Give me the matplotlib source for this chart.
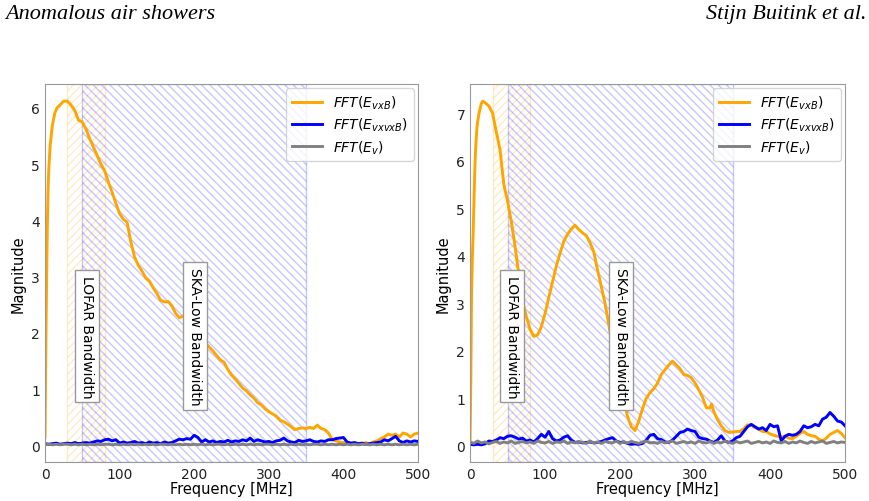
import numpy as np
import matplotlib
matplotlib.use("Agg")
import matplotlib.pyplot as plt
import matplotlib.transforms as mtransforms

# ---------------- data ----------------
# Left panel
left_orange_f = [0, 1, 2, 3, 4, 5, 7, 10, 13, 16, 20, 25, 30, 35, 40, 45, 50, 55, 60, 65,
                 70, 75, 80, 85, 90, 95, 100, 105, 110, 115, 120, 125, 130, 135, 140, 145,
                 150, 155, 160, 165, 170, 175, 180, 185, 190, 195, 200, 205, 210, 215, 220,
                 225, 230, 235, 240, 245, 250, 255, 260, 265, 270, 275, 280, 285, 290, 295,
                 300, 305, 310, 315, 320, 325, 330, 335, 340, 345, 350, 355, 360, 365, 370,
                 375, 380, 385, 390, 395, 400, 405, 410, 415, 420, 425, 430, 435, 440, 445,
                 450, 455, 460, 465, 470, 475, 480, 485, 490, 495, 500]
left_orange = [0.15, 1.6, 2.8, 3.8, 4.5, 4.9, 5.35, 5.7, 5.9, 6.0, 6.05, 6.12, 6.12, 6.05,
               5.95, 5.78, 5.75, 5.62, 5.45, 5.3, 5.15, 5.0, 4.88, 4.68, 4.5, 4.3, 4.12,
               4.02, 3.97, 3.62, 3.35, 3.2, 3.1, 2.98, 2.92, 2.8, 2.7, 2.58, 2.55, 2.56,
               2.48, 2.35, 2.27, 2.3, 2.2, 2.1, 2.0, 1.95, 1.88, 1.82, 1.75, 1.68, 1.6,
               1.52, 1.48, 1.35, 1.25, 1.18, 1.1, 1.02, 0.97, 0.9, 0.84, 0.76, 0.72, 0.65,
               0.6, 0.56, 0.52, 0.45, 0.42, 0.38, 0.33, 0.28, 0.3, 0.31, 0.3, 0.32, 0.3,
               0.36, 0.3, 0.28, 0.22, 0.1, 0.08, 0.06, 0.05, 0.04, 0.04, 0.03, 0.02, 0.03,
               0.05, 0.03, 0.06, 0.08, 0.12, 0.15, 0.2, 0.18, 0.2, 0.15, 0.22, 0.2, 0.15,
               0.2, 0.22]

noise_f = [0, 5, 10, 15, 20, 25, 30, 35, 40, 45, 50, 55, 60, 65, 70, 75, 80, 85, 90, 95,
           100, 105, 110, 115, 120, 125, 130, 135, 140, 145, 150, 155, 160, 165, 170, 175,
           180, 185, 190, 195, 200, 205, 210, 215, 220, 225, 230, 235, 240, 245, 250, 255,
           260, 265, 270, 275, 280, 285, 290, 295, 300, 305, 310, 315, 320, 325, 330, 335,
           340, 345, 350, 355, 360, 365, 370, 375, 380, 385, 390, 395, 400, 405, 410, 415,
           420, 425, 430, 435, 440, 445, 450, 455, 460, 465, 470, 475, 480, 485, 490, 495, 500]
left_blue = [0.03, 0.02, 0.03, 0.04, 0.02, 0.03, 0.04, 0.03, 0.05, 0.03, 0.04, 0.05, 0.04,
             0.06, 0.08, 0.07, 0.1, 0.11, 0.08, 0.1, 0.04, 0.06, 0.04, 0.05, 0.07, 0.04,
             0.05, 0.03, 0.06, 0.04, 0.05, 0.03, 0.06, 0.04, 0.05, 0.08, 0.11, 0.1, 0.12,
             0.11, 0.18, 0.14, 0.06, 0.1, 0.06, 0.08, 0.05, 0.07, 0.06, 0.09, 0.06, 0.08,
             0.07, 0.1, 0.08, 0.13, 0.07, 0.1, 0.08, 0.06, 0.07, 0.05, 0.08, 0.09, 0.13,
             0.08, 0.06, 0.05, 0.09, 0.07, 0.08, 0.1, 0.07, 0.06, 0.08, 0.07, 0.1, 0.1,
             0.12, 0.13, 0.14, 0.06, 0.04, 0.05, 0.03, 0.04, 0.02, 0.03, 0.04, 0.05, 0.06,
             0.1, 0.08, 0.12, 0.16, 0.08, 0.05, 0.08, 0.06, 0.08, 0.07]
left_gray = [0.01, 0.02, 0.01, 0.02, 0.01, 0.02, 0.02, 0.01, 0.02, 0.01, 0.02, 0.01, 0.02,
             0.01, 0.02, 0.01, 0.02, 0.02, 0.01, 0.02, 0.01, 0.02, 0.01, 0.02, 0.01, 0.02,
             0.01, 0.02, 0.01, 0.02, 0.01, 0.02, 0.02, 0.01, 0.02, 0.01, 0.02, 0.01, 0.02,
             0.01, 0.02, 0.01, 0.02, 0.01, 0.02, 0.01, 0.02, 0.02, 0.01, 0.02, 0.01, 0.02,
             0.01, 0.02, 0.01, 0.02, 0.01, 0.02, 0.01, 0.02, 0.02, 0.01, 0.02, 0.01, 0.02,
             0.01, 0.02, 0.01, 0.02, 0.01, 0.02, 0.01, 0.02, 0.02, 0.01, 0.02, 0.01, 0.02,
             0.01, 0.02, 0.01, 0.02, 0.01, 0.02, 0.01, 0.02, 0.02, 0.01, 0.02, 0.01, 0.02,
             0.01, 0.02, 0.01, 0.02, 0.01, 0.02, 0.01, 0.02, 0.01, 0.02]

# Right panel
right_orange_f = [0, 1, 2, 3, 4, 5, 6, 7, 8, 9, 10, 12, 15, 17, 20, 25, 30, 35, 40, 45, 50,
                  55, 60, 65, 70, 75, 80, 85, 90, 95, 100, 105, 110, 115, 120, 125, 130, 135,
                  140, 145, 150, 155, 160, 165, 170, 175, 180, 185, 190, 195, 200, 205, 210,
                  215, 220, 225, 230, 235, 240, 245, 250, 255, 260, 265, 270, 275, 280, 285,
                  290, 295, 300, 305, 310, 315, 320, 322, 325, 330, 335, 340, 345, 350, 355,
                  360, 365, 370, 375, 380, 385, 390, 395, 400, 405, 410, 415, 420, 425, 430,
                  435, 440, 445, 450, 455, 460, 465, 470, 475, 480, 485, 490, 495, 500]
right_orange = [0.1, 1.3, 3.2, 3.9, 4.4, 5.0, 5.6, 6.1, 6.4, 6.65, 6.8, 7.0, 7.2, 7.25, 7.22,
                7.15, 7.0, 6.6, 6.23, 5.5, 5.15, 4.72, 4.2, 3.6, 3.05, 2.72, 2.45, 2.3, 2.33,
                2.5, 2.78, 3.12, 3.45, 3.78, 4.05, 4.3, 4.45, 4.56, 4.64, 4.55, 4.48, 4.42,
                4.27, 4.08, 3.7, 3.35, 3.0, 2.55, 2.1, 1.7, 1.3, 0.95, 0.62, 0.4, 0.32, 0.52,
                0.78, 1.0, 1.12, 1.2, 1.32, 1.5, 1.6, 1.7, 1.78, 1.7, 1.62, 1.5, 1.48, 1.43,
                1.32, 1.18, 1.02, 0.8, 0.8, 0.88, 0.72, 0.55, 0.42, 0.32, 0.28, 0.29, 0.3,
                0.3, 0.36, 0.44, 0.43, 0.38, 0.35, 0.3, 0.3, 0.25, 0.22, 0.2, 0.18, 0.2, 0.16,
                0.15, 0.2, 0.26, 0.3, 0.24, 0.21, 0.2, 0.14, 0.1, 0.16, 0.24, 0.28, 0.32,
                0.26, 0.17]
right_blue = [0.03, 0.02, 0.03, 0.02, 0.04, 0.1, 0.09, 0.12, 0.17, 0.15, 0.2, 0.21, 0.18,
              0.14, 0.16, 0.1, 0.12, 0.08, 0.15, 0.24, 0.18, 0.3, 0.15, 0.1, 0.12, 0.18,
              0.21, 0.12, 0.07, 0.08, 0.06, 0.07, 0.08, 0.06, 0.07, 0.09, 0.12, 0.15, 0.17,
              0.1, 0.07, 0.08, 0.05, 0.03, 0.04, 0.03, 0.05, 0.12, 0.22, 0.24, 0.15, 0.13,
              0.08, 0.07, 0.12, 0.2, 0.28, 0.3, 0.35, 0.32, 0.3, 0.18, 0.15, 0.14, 0.1,
              0.07, 0.12, 0.21, 0.1, 0.07, 0.1, 0.17, 0.2, 0.3, 0.4, 0.45, 0.4, 0.35, 0.38,
              0.32, 0.45, 0.4, 0.42, 0.1, 0.2, 0.24, 0.22, 0.24, 0.3, 0.42, 0.38, 0.4, 0.45,
              0.42, 0.56, 0.6, 0.7, 0.62, 0.52, 0.5, 0.42]
right_gray = [0.08, 0.05, 0.1, 0.06, 0.08, 0.04, 0.07, 0.09, 0.05, 0.08, 0.06, 0.1, 0.05,
              0.07, 0.09, 0.06, 0.08, 0.05, 0.1, 0.07, 0.06, 0.09, 0.05, 0.08, 0.07, 0.1,
              0.05, 0.08, 0.06, 0.09, 0.07, 0.05, 0.1, 0.06, 0.08, 0.05, 0.09, 0.07, 0.06,
              0.1, 0.05, 0.08, 0.06, 0.09, 0.07, 0.05, 0.08, 0.1, 0.06, 0.07, 0.05, 0.09,
              0.06, 0.08, 0.1, 0.05, 0.07, 0.09, 0.06, 0.08, 0.05, 0.1, 0.07, 0.06, 0.09,
              0.05, 0.08, 0.06, 0.1, 0.07, 0.05, 0.09, 0.06, 0.08, 0.1, 0.05, 0.07, 0.09,
              0.06, 0.08, 0.05, 0.1, 0.07, 0.06, 0.09, 0.05, 0.08, 0.06, 0.1, 0.07, 0.05,
              0.09, 0.06, 0.08, 0.1, 0.05, 0.07, 0.09, 0.06, 0.08, 0.07]

lofar_band = (30, 80)
ska_band = (50, 350)
labels = [r"$FFT(E_{vxB})$", r"$FFT(E_{vxvxB})$", r"$FFT(E_{v})$"]

# ---------------- figure ----------------
fig = plt.figure(figsize=(8.69, 5.02), dpi=100)
ax1 = fig.add_axes([0.0518, 0.0777, 0.4292, 0.753])
ax2 = fig.add_axes([0.5409, 0.0777, 0.4315, 0.753])

fig.text(0.006, 0.972, "Anomalous air showers", family="Liberation Serif",
         style="italic", fontsize=16, ha="left", va="center")
fig.text(0.997, 0.972, "Stijn Buitink et al.", family="Liberation Serif",
         style="italic", fontsize=16, ha="right", va="center")

panels = [
    (ax1, left_orange_f, left_orange, noise_f, left_blue, noise_f, left_gray),
    (ax2, right_orange_f, right_orange, noise_f, right_blue, noise_f, right_gray),
]

for ax, fo, yo, fb, yb, fg, yg in panels:
    ax.axvspan(*lofar_band, facecolor="none", edgecolor="orange", hatch="////",
               alpha=0.22, lw=1)
    ax.axvspan(*ska_band, facecolor="none", edgecolor="blue", hatch="\\\\\\\\",
               alpha=0.22, lw=1)
    ax.plot(fo, yo, color="orange", lw=2.1, label=labels[0])
    ax.plot(fb, yb, color="blue", lw=2.1, label=labels[1])
    ax.plot(fg, yg, color="gray", lw=2.1, label=labels[2])
    ax.set_xlim(0, 500)
    ax.set_xlabel("Frequency [MHz]", fontsize=10.5, labelpad=0)
    ax.set_ylabel("Magnitude", fontsize=10.5, labelpad=4)
    ax.tick_params(labelsize=10, colors="#222222", length=0, pad=3.5)
    for s in ax.spines.values():
        s.set_color("#999999")
    trans = mtransforms.blended_transform_factory(ax.transData, ax.transAxes)
    bbox = dict(boxstyle="square,pad=0.35", facecolor="white", edgecolor="#999999")
    ax.text(56, 0.333, "LOFAR Bandwidth", rotation=-90, ha="center", va="center",
            fontsize=10, transform=trans, bbox=bbox, zorder=5)
    ax.text(201, 0.333, "SKA-Low Bandwidth", rotation=-90, ha="center", va="center",
            fontsize=10, transform=trans, bbox=bbox, zorder=5)
    ax.legend(loc="upper right", fontsize=10, labelspacing=0.35,
              borderaxespad=0.3, handlelength=2.2)

fig.savefig("out.png", dpi=100)
